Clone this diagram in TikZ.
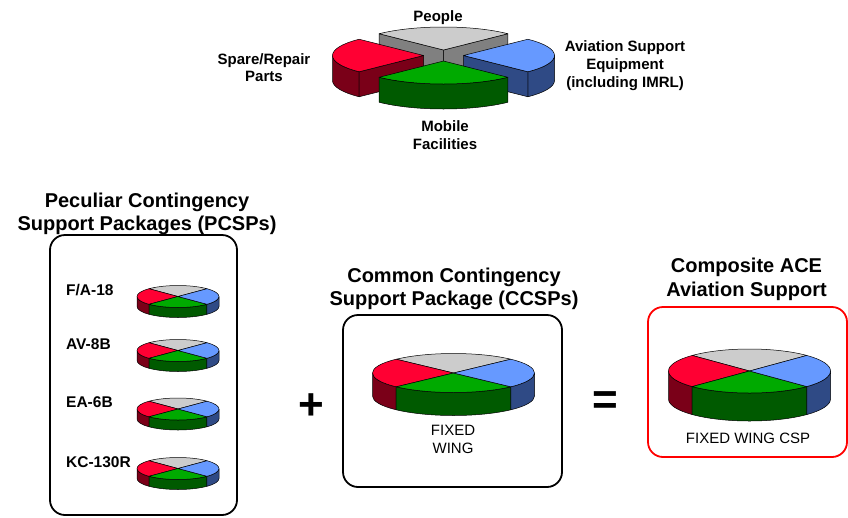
\documentclass[tikz,border=0pt]{standalone}
\usepackage{fontspec}
\setmainfont{Liberation Sans}
\definecolor{redtop}{HTML}{FF0033}
\definecolor{redside}{HTML}{7A0018}
\definecolor{graytop}{HTML}{CCCCCC}
\definecolor{grayside}{HTML}{808080}
\definecolor{greentop}{HTML}{00AA00}
\definecolor{greenside}{HTML}{005A00}
\definecolor{bluetop}{HTML}{6699FF}
\definecolor{blueside}{HTML}{2F4A85}
\tikzset{
	edge/.style={draw=black, line width=0.5pt, line join=round},
	box/.style={draw=black, line width=1.8pt, rounded corners=15pt},
	title/.style={font=\bfseries\fontsize{20}{23}\selectfont, align=center, anchor=north, inner sep=0pt},
	toplabel/.style={font=\bfseries\fontsize{15}{18}\selectfont, align=center, anchor=north, inner sep=0pt},
	planelabel/.style={font=\bfseries\fontsize{15.5}{18}\selectfont, anchor=base west, inner sep=0pt},
	pielabel/.style={font=\fontsize{15}{17.5}\selectfont, align=center, anchor=north, inner sep=0pt},
	sign/.style={font=\bfseries\fontsize{44}{44}\selectfont, inner sep=0pt}
}
% pie: centre x, centre y, x radius, y radius, thickness
\newcommand{\pie}[5]{%
	\begin{scope}[shift={(#1,#2)}, x radius=#3pt, y radius=#4pt]
		\filldraw[edge, fill=redside] (180:#3pt and #4pt) arc[start angle=180, end angle=225] -- ++(0,-#5) arc[start angle=225, end angle=180] -- cycle;
		\filldraw[edge, fill=greenside] (225:#3pt and #4pt) arc[start angle=225, end angle=315] -- ++(0,-#5) arc[start angle=315, end angle=225] -- cycle;
		\filldraw[edge, fill=blueside] (315:#3pt and #4pt) arc[start angle=315, end angle=360] -- ++(0,-#5) arc[start angle=360, end angle=315] -- cycle;
		\filldraw[edge, fill=graytop] (0,0) -- (45:#3pt and #4pt) arc[start angle=45, end angle=135] -- cycle;
		\filldraw[edge, fill=redtop] (0,0) -- (135:#3pt and #4pt) arc[start angle=135, end angle=225] -- cycle;
		\filldraw[edge, fill=greentop] (0,0) -- (225:#3pt and #4pt) arc[start angle=225, end angle=315] -- cycle;
		\filldraw[edge, fill=bluetop] (0,0) -- (315:#3pt and #4pt) arc[start angle=315, end angle=405] -- cycle;
	\end{scope}}
\begin{document}
\begin{tikzpicture}[x=1pt, y=1pt]
	\useasboundingbox (0,0) rectangle (848,-517);

	% exploded pie
	\begin{scope}[shift={(443.5,-50)}, x radius=91pt, y radius=23pt]
		\filldraw[edge, fill=grayside] (0,0) -- (135:91pt and 23pt) -- ++(0,-25) -- (0,-25) -- cycle;
		\filldraw[edge, fill=grayside] (0,0) -- (45:91pt and 23pt) -- ++(0,-25) -- (0,-25) -- cycle;
		\filldraw[edge, fill=graytop] (0,0) -- (45:91pt and 23pt) arc[start angle=45, end angle=135] -- cycle;
	\end{scope}
	\begin{scope}[shift={(423.5,-55.5)}, x radius=91pt, y radius=23pt]
		\filldraw[edge, fill=redside] (180:91pt and 23pt) arc[start angle=180, end angle=225] -- ++(0,-25) arc[start angle=225, end angle=180] -- cycle;
		\filldraw[edge, fill=redside] (0,0) -- (225:91pt and 23pt) -- ++(0,-25) -- (0,-25) -- cycle;
		\filldraw[edge, fill=redtop] (0,0) -- (135:91pt and 23pt) arc[start angle=135, end angle=225] -- cycle;
	\end{scope}
	\begin{scope}[shift={(463.5,-55.5)}, x radius=91pt, y radius=23pt]
		\filldraw[edge, fill=blueside] (315:91pt and 23pt) arc[start angle=315, end angle=360] -- ++(0,-25) arc[start angle=360, end angle=315] -- cycle;
		\filldraw[edge, fill=blueside] (0,0) -- (315:91pt and 23pt) -- ++(0,-25) -- (0,-25) -- cycle;
		\filldraw[edge, fill=bluetop] (0,0) -- (315:91pt and 23pt) arc[start angle=315, end angle=405] -- cycle;
	\end{scope}
	\begin{scope}[shift={(443.5,-61)}, x radius=91pt, y radius=23pt]
		\filldraw[edge, fill=greenside] (225:91pt and 23pt) arc[start angle=225, end angle=315] -- ++(0,-25) arc[start angle=315, end angle=225] -- cycle;
		\filldraw[edge, fill=greentop] (0,0) -- (225:91pt and 23pt) arc[start angle=225, end angle=315] -- cycle;
	\end{scope}

	\node[toplabel] (people) at (438,-10) {People};
	\node[toplabel, font=\bfseries\fontsize{15}{16.7}\selectfont] (spares) at (264,-53.3) {Spare/Repair\\Parts};
	\node[toplabel] (ase) at (625,-40) {Aviation Support\\Equipment\\(including IMRL)};
	\node[toplabel] (mobile) at (445,-120) {Mobile\\Facilities};

	% peculiar packages
	\node[title] (pcsp) at (147,-193.3) {Peculiar Contingency\\Support Packages (PCSPs)};
	\draw[box] (50,-235) rectangle (237,-515);
	\pie{178}{-296.5}{41}{11}{10}
	\pie{178}{-350.5}{41}{11}{10}
	\pie{178}{-409}{41}{11}{10}
	\pie{178}{-468.5}{41}{11}{10}
	\node[planelabel] (fa18) at (66,-295) {F/A-18};
	\node[planelabel] (av8b) at (66,-349) {AV-8B};
	\node[planelabel] (ea6b) at (66,-407.5) {EA-6B};
	\node[planelabel] (kc130) at (66,-467) {KC-130R};

	\node[sign] (plus) at (311,-407) {+};

	% common package
	\node[title] (ccsp) at (454,-268.3) {Common Contingency\\Support Package (CCSPs)};
	\draw[box] (343,-315) rectangle (562,-487);
	\pie{453.5}{-373}{81}{19.5}{23}
	\node[pielabel] (fixed) at (453,-425) {FIXED\\WING};

	\node[sign] (equals) at (605.3,-403) {=};

	% composite
	\node[title, font=\bfseries\fontsize{20}{24}\selectfont] (ace) at (746.5,-258.3) {Composite ACE\\Aviation Support};
	\draw[box, draw=red] (648,-307) rectangle (847,-457);
	\pie{749.5}{-371}{81}{22}{28}
	\node[pielabel] (csp) at (748,-433.3) {FIXED WING CSP};
\end{tikzpicture}
\end{document}
